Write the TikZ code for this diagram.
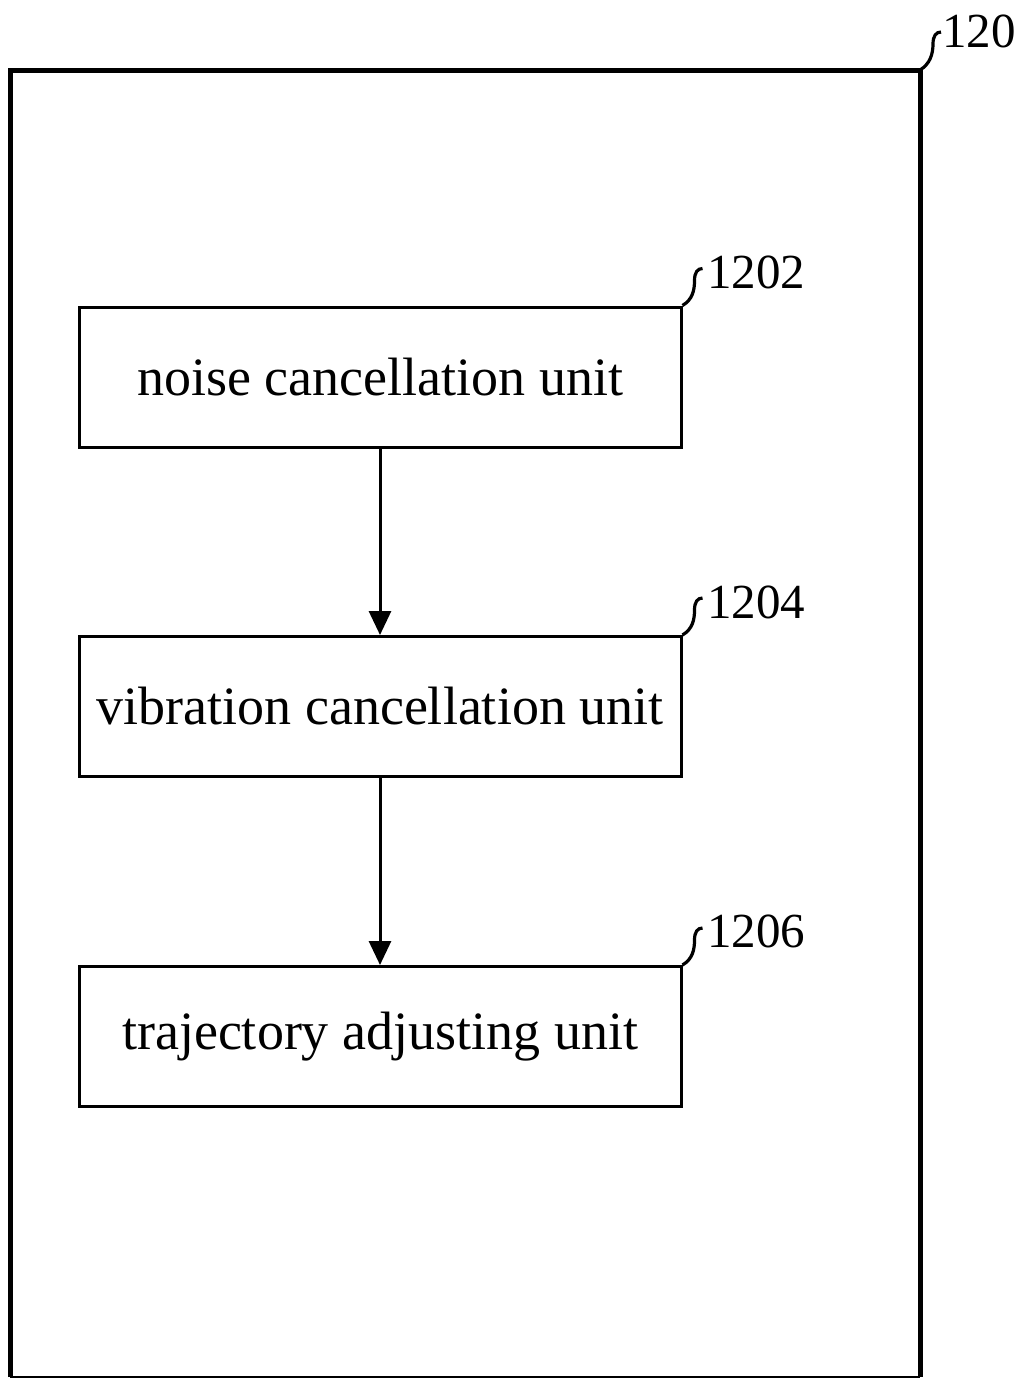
\documentclass[tikz,border=0pt]{standalone}
\usepackage{fontspec}
\setmainfont{Liberation Serif}
\usetikzlibrary{arrows.meta}
\begin{document}
\begin{tikzpicture}[x=1pt,y=-1pt,
  unitbox/.style={draw, line width=3pt, minimum width=602pt, minimum height=140pt,
    inner sep=0pt, font=\fontsize{54}{60}\selectfont},
  reflabel/.style={anchor=base west, inner sep=0pt, font=\fontsize{49}{60}\selectfont},
  leader/.style={line width=3.2pt},
  flow/.style={line width=3pt, -{Triangle[length=24pt,width=22pt]}}]
\useasboundingbox (0,0) rectangle (1024,1379);

% outer module frame
\coordinate (fbl) at (10,1377);
\coordinate (ftl) at (10,70);
\coordinate (ftr) at (920,70);
\coordinate (fbr) at (920,1377);
\draw[line width=5pt, line join=miter] (fbl) -- (ftl) -- (ftr) -- (fbr);
\draw[line width=1.5pt] (fbl) -- (fbr);
\node[reflabel] (l120) at (942,47) {120};
\draw[leader] (ftr) .. controls +(10,-6) and +(0,10) .. ++(13,-26)
  .. controls +(0,-8) and +(-5,0) .. ++(8,-12);

% units
\node[unitbox] (b1) at (380,377) {noise cancellation unit};
\node[unitbox] (b2) at (380,706.5) {vibration cancellation unit};
\node[unitbox] (b3) at (380,1036.5) {trajectory adjusting unit};

\node[reflabel] (l1) at (707,288) {1202};
\node[reflabel] (l2) at (707,618) {1204};
\node[reflabel] (l3) at (707,947) {1206};

\foreach \b in {b1,b2,b3}{
  \draw[leader] (\b.north east) .. controls +(10,-6) and +(0,10) .. ++(12,-25)
    .. controls +(0,-8) and +(-5,0) .. ++(8,-12);
}

% signal flow
\draw[flow] (b1.south) -- (b2.north);
\draw[flow] (b2.south) -- (b3.north);
\end{tikzpicture}
\end{document}
